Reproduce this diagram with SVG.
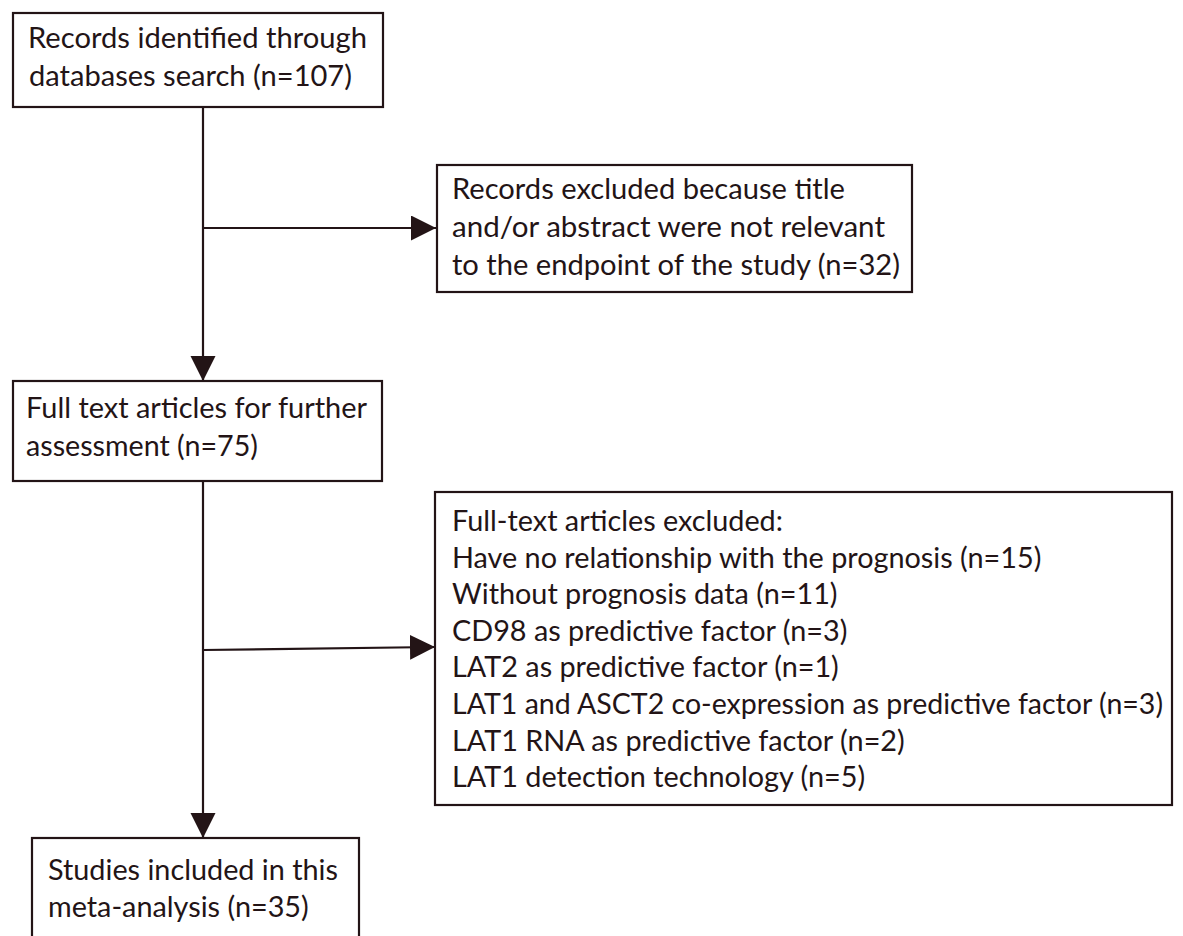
<svg xmlns="http://www.w3.org/2000/svg" width="1183" height="936" viewBox="0 0 1183 936">
<style>
.box{fill:#ffffff;stroke:#231416;stroke-width:2.2}
.t{font-family:Lato,"Open Sans","Liberation Sans",sans-serif;font-size:28.8px;fill:#231416}
.c{fill:none;stroke:#231416;stroke-width:2.2}
</style>
<defs>
<marker id="ah" markerUnits="userSpaceOnUse" markerWidth="27" markerHeight="27" refX="25" refY="12.5" orient="auto">
<path d="M0,0 L25,12.5 L0,25 z" fill="#231416"/>
</marker>
</defs>
<rect width="1183" height="936" fill="#ffffff"/>
<g id="connectors">
<line class="c" x1="203" y1="107" x2="203" y2="381" marker-end="url(#ah)"/>
<line class="c" x1="203" y1="228" x2="436" y2="228" marker-end="url(#ah)"/>
<line class="c" x1="203" y1="481" x2="203" y2="838" marker-end="url(#ah)"/>
<line class="c" x1="203" y1="650" x2="435" y2="647" marker-end="url(#ah)"/>
</g>
<g id="n1">
<rect class="box" x="13" y="13" width="370" height="94"/>
<text class="t" x="28" y="48" textLength="339" lengthAdjust="spacingAndGlyphs">Records identified through</text>
<text class="t" x="29" y="86" textLength="323" lengthAdjust="spacingAndGlyphs">databases search (n=107)</text>
</g>
<g id="n2">
<rect class="box" x="437" y="165" width="475" height="127"/>
<text class="t" x="452" y="199" textLength="393" lengthAdjust="spacingAndGlyphs">Records excluded because title</text>
<text class="t" x="452" y="237" textLength="433" lengthAdjust="spacingAndGlyphs">and/or abstract were not relevant</text>
<text class="t" x="452" y="275" textLength="448" lengthAdjust="spacingAndGlyphs">to the endpoint of the study (n=32)</text>
</g>
<g id="n3">
<rect class="box" x="13" y="381" width="369" height="100"/>
<text class="t" x="26" y="418" textLength="341" lengthAdjust="spacingAndGlyphs">Full text articles for further</text>
<text class="t" x="26" y="456" textLength="232" lengthAdjust="spacingAndGlyphs">assessment (n=75)</text>
</g>
<g id="n4">
<rect class="box" x="435" y="492" width="737" height="313"/>
<text class="t" x="452" y="531">Full-text articles excluded:</text>
<text class="t" x="452" y="567.6">Have no relationship with the prognosis (n=15)</text>
<text class="t" x="452" y="604.2">Without prognosis data (n=11)</text>
<text class="t" x="452" y="640.8">CD98 as predictive factor (n=3)</text>
<text class="t" x="452" y="677.4">LAT2 as predictive factor (n=1)</text>
<text class="t" x="452" y="714" textLength="711" lengthAdjust="spacingAndGlyphs">LAT1 and ASCT2 co-expression as predictive factor (n=3)</text>
<text class="t" x="452" y="750.6">LAT1 RNA as predictive factor (n=2)</text>
<text class="t" x="452" y="787.2">LAT1 detection technology (n=5)</text>
</g>
<g id="n5">
<rect class="box" x="32" y="838" width="327" height="110"/>
<text class="t" x="48" y="880">Studies included in this</text>
<text class="t" x="48" y="917">meta-analysis (n=35)</text>
</g>
</svg>
